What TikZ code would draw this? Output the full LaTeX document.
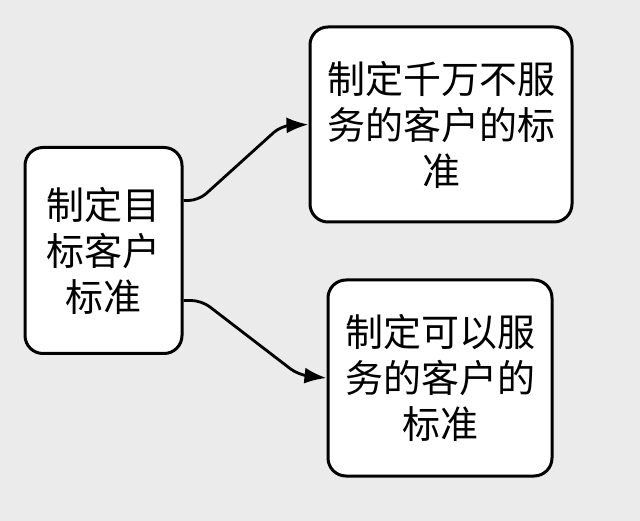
\documentclass[tikz,border=0pt]{standalone}
\usepackage{fontspec}
\setmainfont{Noto Sans CJK SC}
\definecolor{bggray}{RGB}{235,235,235}
\usetikzlibrary{positioning,arrows.meta}

\begin{document}
\begin{tikzpicture}[
    x=1pt, y=-1pt,
    box/.style={rectangle, rounded corners=18pt, draw=black, line width=3pt, fill=white, align=center, inner sep=0pt, font=\fontsize{38}{46}\selectfont},
    arrow/.style={-{Latex[length=22pt,width=16pt]}, line width=2.8pt, rounded corners=10pt}
]

% Background
\fill[bggray] (0,0) rectangle (640,521);
\useasboundingbox (0,0) rectangle (640,521);

% Criteria
\node[box, minimum width=157pt, minimum height=206pt] (crit) at (103.5,250.5) {制定目\\标客户\\标准};

% Never serve
\node[box, minimum width=262pt, minimum height=195pt] (nosrv) at (441,124.5) {制定千万不服\\务的客户的标\\准};

% Can serve
\node[box, minimum width=224pt, minimum height=196pt] (srv) at (440,378) {制定可以服\\务的客户的\\标准};

% Connections
\draw[arrow] ([yshift=50pt]crit.east) -- ++(15,0) -- ([xshift=-27pt,yshift=-1pt]nosrv.west) -- (nosrv.west);
\draw[arrow] ([yshift=-50pt]crit.east) -- ++(18,0) -- ([xshift=-28pt,yshift=3pt]srv.west) -- (srv.west);

\end{tikzpicture}
\end{document}
